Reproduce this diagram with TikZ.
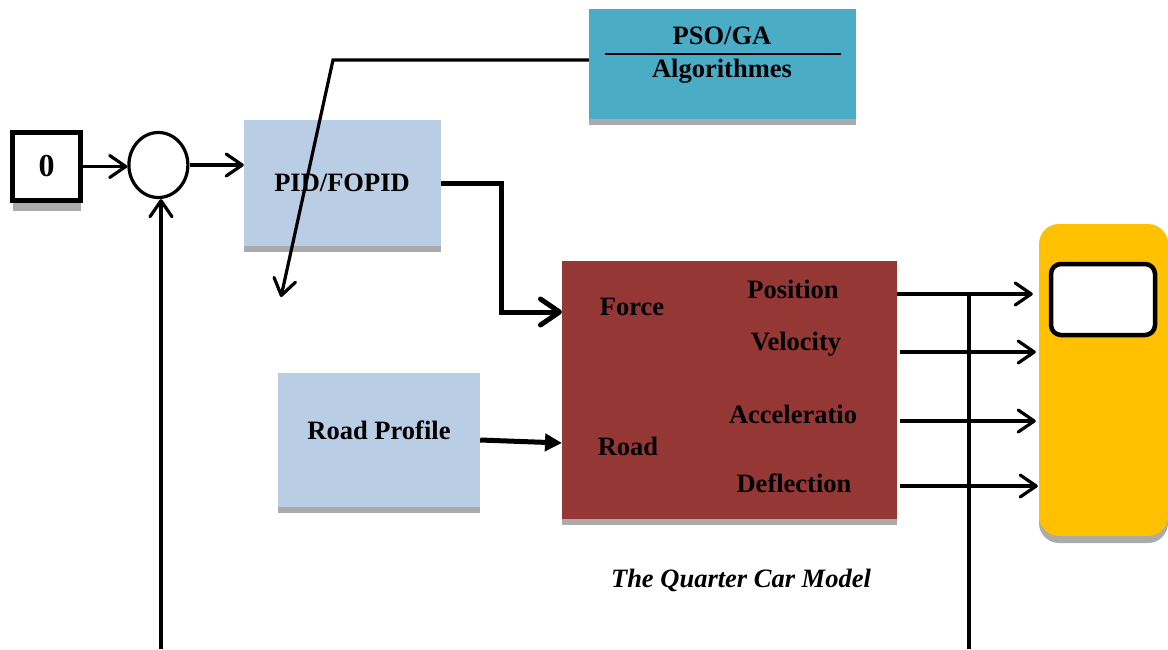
\documentclass[tikz,border=0pt]{standalone}
\usepackage{fontspec}
\setmainfont{Liberation Serif}
\usetikzlibrary{arrows.meta,shapes.geometric,shadows}
\definecolor{pidblue}{HTML}{B9CDE5}
\definecolor{psoteal}{HTML}{4BACC6}
\definecolor{carred}{HTML}{953735}
\definecolor{scopeyellow}{HTML}{FFC000}
\definecolor{shade}{HTML}{ABABAB}
\tikzset{
  lbl/.style={font=\fontsize{26.5}{30}\selectfont\bfseries, inner sep=0pt},
  shade below/.style={drop shadow={shadow xshift=0pt, shadow yshift=-#1, fill=shade, opacity=1}},
  block/.style={rectangle, inner sep=0pt, fill=#1, shade below=6pt},
  wire/.style={line width=3.2pt, -{Straight Barb[length=16pt,width=22pt,round]}},
  busline/.style={line width=3.2pt},
  heavywire/.style={line width=5pt, -{Straight Barb[length=19pt,width=26pt,round]}},
  roadwire/.style={line width=5pt, -{Triangle[length=17pt,width=17pt]}},
}
\begin{document}
\begin{tikzpicture}[x=1pt, y=-1pt]
  \useasboundingbox[fill=white] (0,0) rectangle (1168,649);

  % reference input and summing junction
  \node[draw, line width=5pt, fill=white, minimum size=68pt, inner sep=0pt, shade below=10pt]
    (zero) at (46.5,166.5) {\fontsize{32}{34}\selectfont\bfseries 0};
  \node[ellipse, draw, line width=3.2pt, minimum width=59pt, minimum height=65pt, inner sep=0pt]
    (sum) at (158.4,165) {};

  % controller, optimiser and road input
  \node[block=pidblue, minimum width=197pt, minimum height=126pt] (pid) at (342.5,183) {};
  \node[lbl] (pidtxt) at (342,183) {PID/FOPID};

  \node[block=psoteal, minimum width=267pt, minimum height=110pt] (pso) at (722.5,64) {};
  \node[lbl] (psotxt) at (722,36) {PSO/GA};
  \node[lbl] (algtxt) at (722,71) {Algorithmes};
  \draw[line width=2pt] (605,54) -- (841,54);

  \node[block=pidblue, minimum width=202pt, minimum height=134pt] (road) at (379,440) {};
  \node[lbl] (roadtxt) at (379,430) {Road Profile};

  % quarter car model block
  \node[block=carred, minimum width=335pt, minimum height=258pt] (car) at (729.5,390) {};
  \node[lbl] (force) at (632,307) {Force};
  \node[lbl] (roadin) at (628,446) {Road};
  \node[lbl] (pos) at (793,289) {Position};
  \node[lbl] (vel) at (796,344) {Velocity};
  \node[lbl] (acc) at (793,414) {Acceleratio};
  \node[lbl] (defl) at (794,483) {Deflection};
  \node[font=\fontsize{26.5}{30}\selectfont\bfseries\itshape, inner sep=0pt]
    (caption) at (741,580) {The Quarter Car Model};

  % scope
  \node[rectangle, rounded corners=20pt, fill=scopeyellow, minimum width=129pt,
        minimum height=312pt, inner sep=0pt, shade below=7pt] (scope) at (1103.5,380) {};
  \node[draw, line width=4.5pt, fill=white, rounded corners=10pt, minimum width=104pt,
        minimum height=71pt, inner sep=0pt] (screen) at (1103,299.5) {};

  % connection points
  \coordinate (fb) at (161,649);
  \coordinate (bend) at (333,60);
  \coordinate (tune) at (281,297);
  \coordinate (fin) at (562,312);
  \coordinate (rin) at (562,443);
  \coordinate (o1) at (897,294);
  \coordinate (o2) at (900,352);
  \coordinate (o3) at (900,421);
  \coordinate (o4) at (900,486);
  \coordinate (vtop) at (969,294);
  \coordinate (vbot) at (969,649);

  % signal flow
  \draw[wire] (zero.east) -- (zero.east -| sum.west);
  \draw[wire] (sum.east) -- (sum.east -| pid.west);
  \draw[wire] (fb) -- (fb |- sum.south);
  \draw[wire] (bend -| pso.west) -- (bend) -- (tune);
  \draw[heavywire] (pid.east) -- ++(60,0) |- (fin);
  \draw[roadwire] (road.east |- 0,440) -- (rin);

  \draw[wire, shorten >=6pt] (o1) -- (o1 -| scope.west);
  \draw[wire, shorten >=3pt] (o2) -- (o2 -| scope.west);
  \draw[wire, shorten >=3pt] (o3) -- (o3 -| scope.west);
  \draw[wire, shorten >=1pt] (o4) -- (o4 -| scope.west);
  \draw[busline] (vtop) -- (vbot);
\end{tikzpicture}
\end{document}
